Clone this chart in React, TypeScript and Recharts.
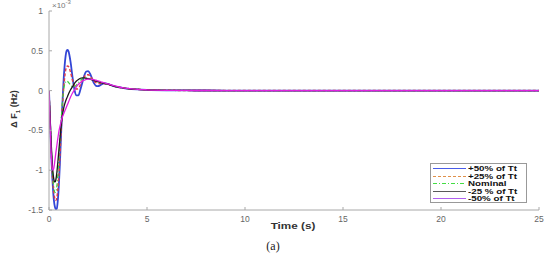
import React from 'react';
import { LineChart, Line, XAxis, YAxis, Legend } from 'recharts';

const time = [
  0, 0.05, 0.1, 0.15, 0.2, 0.25, 0.3, 0.35, 0.4, 0.45, 0.5, 0.55, 0.6, 0.65, 0.7, 0.75, 0.8, 0.85, 0.9, 0.95, 1.0,
  1.1, 1.2, 1.3, 1.4, 1.5, 1.6, 1.7, 1.8, 1.9, 2.0, 2.1, 2.2, 2.3, 2.4, 2.5, 2.6, 2.7, 2.8, 2.9, 3.0,
  3.2, 3.4, 3.6, 3.8, 4.0, 4.5, 5, 6, 7, 8, 10, 12, 15, 20, 25,
];

const plus50 = [
  0, -0.35, -0.7, -1.0, -1.22, -1.38, -1.46, -1.49, -1.48, -1.38, -1.2, -0.95, -0.65, -0.35, -0.08, 0.15, 0.32, 0.44, 0.5, 0.51, 0.49,
  0.36, 0.17, 0.01, -0.06, -0.06, 0.01, 0.1, 0.19, 0.24, 0.245, 0.21, 0.15, 0.09, 0.06, 0.055, 0.065, 0.08, 0.09, 0.09, 0.085,
  0.065, 0.05, 0.04, 0.032, 0.026, 0.016, 0.01, 0.004, 0.002, 0.001, 0, 0, 0, 0, 0,
];

const plus25 = [
  0, -0.33, -0.67, -0.95, -1.15, -1.29, -1.36, -1.38, -1.35, -1.24, -1.07, -0.85, -0.6, -0.36, -0.14, 0.04, 0.17, 0.26, 0.3, 0.31, 0.3,
  0.23, 0.13, 0.05, 0.02, 0.03, 0.07, 0.13, 0.17, 0.2, 0.2, 0.18, 0.15, 0.12, 0.1, 0.09, 0.09, 0.09, 0.09, 0.085, 0.08,
  0.065, 0.05, 0.04, 0.032, 0.026, 0.016, 0.01, 0.004, 0.002, 0.001, 0, 0, 0, 0, 0,
];

const nominal = [
  0, -0.32, -0.64, -0.9, -1.1, -1.22, -1.28, -1.27, -1.2, -1.06, -0.88, -0.66, -0.45, -0.26, -0.1, 0.01, 0.08, 0.11, 0.12, 0.115, 0.1,
  0.07, 0.05, 0.05, 0.07, 0.1, 0.13, 0.15, 0.16, 0.16, 0.155, 0.148, 0.14, 0.13, 0.12, 0.112, 0.105, 0.097, 0.09, 0.085, 0.08,
  0.065, 0.05, 0.04, 0.032, 0.026, 0.016, 0.01, 0.004, 0.002, 0.001, 0, 0, 0, 0, 0,
];

const minus25 = [
  0, -0.3, -0.6, -0.84, -1.02, -1.12, -1.15, -1.12, -1.03, -0.9, -0.76, -0.62, -0.49, -0.38, -0.29, -0.22, -0.17, -0.13, -0.1, -0.07, -0.04,
  0.01, 0.05, 0.09, 0.12, 0.14, 0.155, 0.16, 0.16, 0.155, 0.15, 0.143, 0.135, 0.127, 0.12, 0.112, 0.105, 0.097, 0.09, 0.085, 0.08,
  0.065, 0.05, 0.04, 0.032, 0.026, 0.016, 0.01, 0.004, 0.002, 0.001, 0, 0, 0, 0, 0,
];

const minus50 = [
  0, -0.38, -0.72, -0.93, -1.0, -0.97, -0.88, -0.78, -0.69, -0.6, -0.52, -0.46, -0.41, -0.36, -0.32, -0.29, -0.26, -0.23, -0.2, -0.17, -0.14,
  -0.08, -0.03, 0.01, 0.05, 0.08, 0.1, 0.12, 0.13, 0.14, 0.145, 0.145, 0.14, 0.135, 0.13, 0.122, 0.115, 0.107, 0.1, 0.092, 0.085,
  0.07, 0.055, 0.042, 0.033, 0.027, 0.016, 0.01, 0.004, 0.002, 0.001, 0, 0, 0, 0, 0,
];

const seriesNames = ['+50% of Tt', '+25% of Tt', 'Nominal', '-25 % of Tt', '-50% of Tt'];
const xTicks = [0, 5, 10, 15, 20, 25];
const yTicks = [-1.5, -1, -0.5, 0, 0.5, 1];

const data = time.map((t, i) => ({
  t,
  s0: plus50[i],
  s1: plus25[i],
  s2: nominal[i],
  s3: minus25[i],
  s4: minus50[i],
}));

const styles = [
  { color: '#3346d6', width: 1.8, dash: undefined, legendColor: '#4a5ce8' },
  { color: '#e03a4a', width: 1.5, dash: '3 2', legendColor: '#e0904a' },
  { color: '#3fd23f', width: 1.2, dash: '4 2 1 2', legendColor: '#44dd44' },
  { color: '#1a1a1a', width: 1.3, dash: undefined, legendColor: '#5a5a5a' },
  { color: '#e020e0', width: 1.3, dash: undefined, legendColor: '#b060f0' },
];

const axisColor = '#a8a8a8';
const tickColor = '#666';
const font = '"Liberation Sans", Arial, sans-serif';

const LegendBox = () => (
  <div
    style={{
      background: '#fff',
      border: '1px solid #999',
      width: 97,
      height: 40,
      padding: '1px 0',
      fontFamily: font,
      fontSize: 6.5,
      fontWeight: 700,
      color: '#111',
      boxSizing: 'border-box',
    }}
  >
    {seriesNames.map((name, i) => (
      <div key={name} style={{ display: 'flex', alignItems: 'center', height: 7.5, overflow: 'visible' }}>
        <svg width={37} height={7} style={{ flex: 'none', display: 'block' }}>
          <line
            x1={2}
            x2={35}
            y1={3.5}
            y2={3.5}
            stroke={styles[i].legendColor}
            strokeWidth={1.2}
            strokeDasharray={styles[i].dash}
          />
        </svg>
        <span
          style={{
            display: 'inline-block',
            lineHeight: '7.5px',
            fontWeight: 700,
            transform: 'scaleX(1.5)',
            transformOrigin: 'left center',
            whiteSpace: 'nowrap',
          }}
        >
          {name}
        </span>
      </div>
    ))}
  </div>
);

export default function App() {
  return (
    <div style={{ position: 'absolute', left: 0, top: 0, width: 550, height: 258, background: '#fff' }}>
      <LineChart
        width={550}
        height={258}
        data={data}
        margin={{ top: 11, right: 11, bottom: 28, left: 0 }}
      >
        <XAxis
          dataKey="t"
          type="number"
          domain={[0, 25]}
          ticks={xTicks}
          height={20}
          stroke={axisColor}
          tickSize={-3}
          tickMargin={9}
          tick={{ fill: tickColor, fontSize: 8.5, fontFamily: font }}
          allowDataOverflow
        />
        <XAxis
          xAxisId="top"
          orientation="top"
          type="number"
          domain={[0, 25]}
          ticks={xTicks}
          height={0}
          stroke={axisColor}
          tickSize={-3}
          tick={false}
        />
        <YAxis
          type="number"
          domain={[-1.5, 1]}
          ticks={yTicks}
          width={49}
          stroke={axisColor}
          tickSize={-3}
          tickMargin={9}
          tick={{ fill: tickColor, fontSize: 8.5, fontFamily: font }}
          allowDataOverflow
        />
        <YAxis
          yAxisId="right"
          orientation="right"
          type="number"
          domain={[-1.5, 1]}
          ticks={yTicks}
          width={0}
          stroke={axisColor}
          tickSize={-3}
          tick={false}
        />
        {styles.map((s, i) => (
          <Line
            key={i}
            dataKey={`s${i}`}
            name={seriesNames[i]}
            type="monotone"
            stroke={s.color}
            strokeWidth={s.width}
            strokeDasharray={s.dash}
            dot={false}
            isAnimationActive={false}
          />
        ))}
        <Legend
          layout="vertical"
          align="center"
          verticalAlign="middle"
          wrapperStyle={{ left: 430, top: 163, width: 97 }}
          content={() => <LegendBox />}
        />
      </LineChart>
      <div
        style={{
          position: 'absolute',
          left: 52,
          top: -1,
          fontFamily: font,
          fontSize: 8,
          color: '#777',
        }}
      >
        ×10<sup style={{ fontSize: 6 }}>-3</sup>
      </div>
      <div
        style={{
          position: 'absolute',
          left: 253,
          top: 221,
          width: 80,
          textAlign: 'center',
          fontFamily: font,
          fontSize: 9,
          fontWeight: 'bold',
          color: '#333',
          transform: 'scaleX(1.3)',
        }}
      >
        Time (s)
      </div>
      <div
        style={{
          position: 'absolute',
          left: 243,
          top: 239,
          width: 60,
          textAlign: 'center',
          fontFamily: '"Liberation Serif", "Times New Roman", serif',
          fontSize: 12,
          color: '#222',
        }}
      >
        (a)
      </div>
      <div
        style={{
          position: 'absolute',
          left: 15,
          top: 109,
          width: 80,
          transform: 'translate(-50%, -50%) rotate(-90deg)',
          textAlign: 'center',
          fontFamily: font,
          fontSize: 9,
          fontWeight: 'bold',
          color: '#333',
          whiteSpace: 'nowrap',
        }}
      >
        Δ F<sub style={{ fontSize: 6 }}>1</sub> (Hz)
      </div>
    </div>
  );
}
